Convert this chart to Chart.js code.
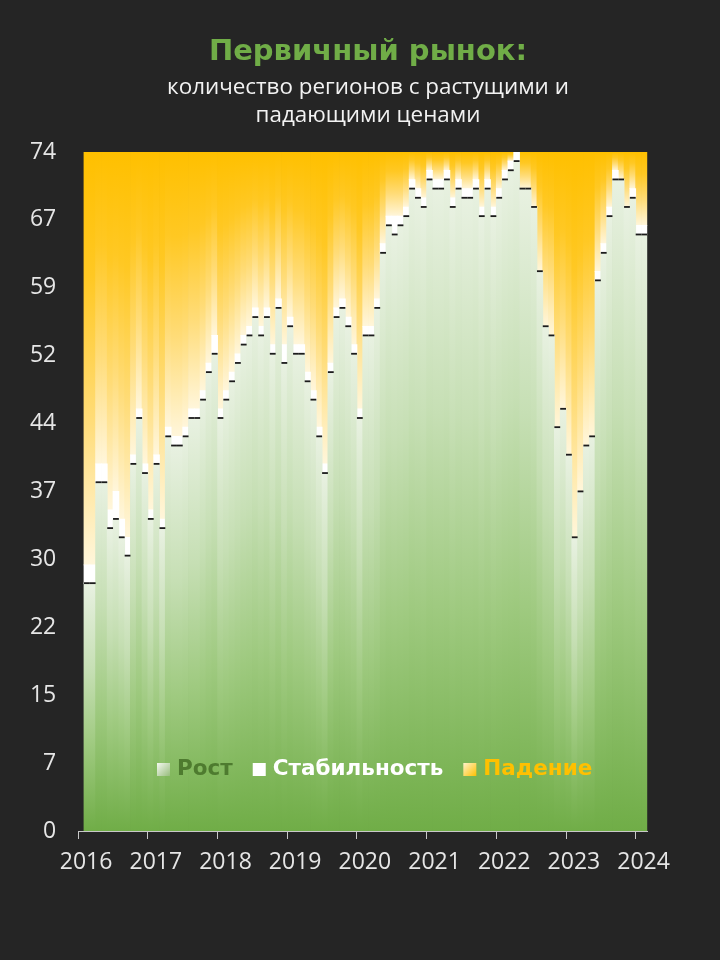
<!DOCTYPE html>
<html>
<head>
<meta charset="utf-8">
<script src="https://cdn.jsdelivr.net/npm/chart.js@4.4.0/dist/chart.umd.min.js"></script>
<style>
  html, body { margin: 0; padding: 0; background: #252525; }
  #wrap { width: 720px; height: 960px; position: relative; }
</style>
</head>
<body>
<div id="wrap"><canvas id="chart"></canvas></div>
<script>
// Years on the x axis (Jan of each year gets a tick)
const years = ['2016', '2017', '2018', '2019', '2020', '2021', '2022', '2023', '2024'];
const monthCodes = ['01', '02', '03', '04', '05', '06', '07', '08', '09', '10', '11', '12'];

// Monthly categories, Jan 2016 .. Feb 2024
const labels = [];
years.forEach(y => {
  monthCodes.forEach(m => {
    if (y === '2024' && m > '02') return;
    labels.push(y + '-' + m);
  });
});

// Number of regions (total 74). Jan 2016 has no data.
const rost = [
  null, 27, 27, 38, 38, 33, 34, 32, 30, 40, 45, 39,   // 2016
  34, 40, 33, 43, 42, 42, 43, 45, 45, 47, 50, 52,     // 2017
  45, 47, 49, 51, 53, 54, 56, 54, 56, 52, 57, 51,     // 2018
  55, 52, 52, 49, 47, 43, 39, 50, 56, 57, 55, 52,     // 2019
  45, 54, 54, 57, 63, 66, 65, 66, 67, 70, 69, 68,     // 2020
  71, 70, 70, 71, 68, 70, 69, 69, 70, 67, 70, 67,     // 2021
  69, 71, 72, 73, 70, 70, 68, 61, 55, 54, 44, 46,     // 2022
  41, 32, 37, 42, 43, 60, 63, 67, 71, 71, 68, 69,     // 2023
  65, 65                                              // 2024
];
const stab = [
  null, 2, 2, 2, 2, 2, 3, 2, 2, 1, 1, 1,
  1, 1, 1, 1, 1, 1, 1, 1, 1, 1, 1, 2,
  1, 1, 1, 1, 1, 1, 1, 1, 1, 1, 1, 2,
  1, 1, 1, 1, 1, 1, 1, 1, 1, 1, 1, 1,
  1, 1, 1, 1, 1, 1, 2, 1, 1, 1, 1, 1,
  1, 1, 1, 1, 1, 1, 1, 1, 1, 1, 1, 1,
  1, 1, 1, 1, 0, 0, 0, 0, 0, 0, 0, 0,
  0, 0, 0, 0, 0, 1, 1, 1, 1, 0, 0, 1,
  1, 1
];
const pad = [
  null, 45, 45, 34, 34, 39, 37, 40, 42, 33, 28, 34,
  39, 33, 40, 30, 31, 31, 30, 28, 28, 26, 23, 20,
  28, 26, 24, 22, 20, 19, 17, 19, 17, 21, 16, 21,
  18, 21, 21, 24, 26, 30, 34, 23, 17, 16, 18, 21,
  28, 19, 19, 16, 10, 7, 7, 7, 6, 3, 4, 5,
  2, 3, 3, 2, 5, 3, 4, 4, 3, 6, 3, 6,
  4, 2, 1, 0, 4, 4, 6, 13, 19, 20, 30, 28,
  33, 42, 37, 32, 31, 13, 10, 6, 2, 3, 6, 4,
  8, 8
];

const yMax = 74;
const yTickLabels = ['0', '7', '15', '22', '30', '37', '44', '52', '59', '67', '74'];

const legendItems = [
  { text: 'Рост', color: '#4e7b2f', box: ['#f4f8f0', '#97bd7c'] },
  { text: 'Стабильность', color: '#ffffff', box: ['#ffffff', '#ffffff'] },
  { text: 'Падение', color: '#ffc000', box: ['#fff3cc', '#ffc000'] }
];

// vertical gradient for one bar segment
function barGradient(chart, topVal, bottomVal, stops) {
  const y = chart.scales.y;
  const top = y.getPixelForValue(topVal);
  const bottom = y.getPixelForValue(bottomVal);
  const g = chart.ctx.createLinearGradient(0, top, 0, bottom);
  stops.forEach(s => g.addColorStop(s[0], s[1]));
  return g;
}

function rostFill(c) {
  const i = c.dataIndex;
  if (!c.chart.chartArea || !c.chart.scales.y || rost[i] == null) return '#a9d08e';
  return barGradient(c.chart, rost[i], 0, [
    [0, '#e8f1e1'], [0.35, '#c6dfb4'], [0.65, '#9fca80'], [1, '#70ad47']
  ]);
}

function padFill(c) {
  const i = c.dataIndex;
  if (!c.chart.chartArea || !c.chart.scales.y || rost[i] == null) return '#ffd24d';
  return barGradient(c.chart, yMax, rost[i] + stab[i], [
    [0, '#ffc000'], [0.3, '#ffc823'], [0.65, '#ffdc78'], [1, '#fff6db']
  ]);
}

const backgroundAndTitle = {
  id: 'backgroundAndTitle',
  beforeDraw(chart) {
    const ctx = chart.ctx;
    ctx.save();
    ctx.fillStyle = '#252525';
    ctx.fillRect(0, 0, chart.width, chart.height);
    ctx.textAlign = 'center';
    ctx.textBaseline = 'middle';
    ctx.fillStyle = '#70ad47';
    ctx.font = 'bold 29px "DejaVu Sans"';
    ctx.fillText('Первичный рынок:', 368, 52);
    ctx.fillStyle = '#f2f2f2';
    ctx.font = '22.4px "Open Sans"';
    ctx.fillText('количество регионов с растущими и', 368, 88);
    ctx.fillText('падающими ценами', 368, 116);
    ctx.restore();
  }
};

// dark line on top of each "Рост" bar, taken from the bar elements
const rostTopLine = {
  id: 'rostTopLine',
  afterDatasetsDraw(chart) {
    const ctx = chart.ctx;
    const meta = chart.getDatasetMeta(0);
    ctx.save();
    ctx.fillStyle = '#1c1c1c';
    meta.data.forEach((bar, i) => {
      if (rost[i] == null) return;
      const p = bar.getProps(['x', 'y', 'width'], true);
      ctx.fillRect(p.x - p.width / 2, p.y - 1, p.width, 1.8);
    });
    ctx.restore();
  }
};

const insideLegend = {
  id: 'insideLegend',
  afterDatasetsDraw(chart) {
    const ctx = chart.ctx;
    ctx.save();
    ctx.font = 'bold 21.5px "DejaVu Sans"';
    ctx.textBaseline = 'middle';
    ctx.textAlign = 'left';
    const cy = 769;
    let x = 157;
    legendItems.forEach(item => {
      const g = ctx.createLinearGradient(x, cy - 6, x + 13, cy + 7);
      g.addColorStop(0, item.box[0]);
      g.addColorStop(1, item.box[1]);
      ctx.fillStyle = g;
      ctx.fillRect(x, cy - 6, 13, 13);
      x += 20;
      ctx.fillStyle = item.color;
      ctx.fillText(item.text, x, cy);
      x += ctx.measureText(item.text).width + 20;
    });
    ctx.restore();
  }
};

new Chart(document.getElementById('chart'), {
  type: 'bar',
  data: {
    labels: labels,
    datasets: [
      {
        label: 'Рост',
        data: rost,
        backgroundColor: rostFill,
        borderWidth: 0
      },
      {
        label: 'Стабильность',
        data: stab,
        backgroundColor: '#ffffff',
        borderWidth: 0
      },
      {
        label: 'Падение',
        data: pad,
        backgroundColor: padFill,
        borderWidth: 0
      }
    ]
  },
  options: {
    responsive: true,
    maintainAspectRatio: false,
    animation: false,
    layout: { padding: { top: 152, right: 72.7, bottom: 69, left: 0 } },
    datasets: {
      bar: { categoryPercentage: 1, barPercentage: 1, inflateAmount: 0.4 }
    },
    plugins: {
      legend: { display: false },
      title: { display: false },
      tooltip: { enabled: false }
    },
    scales: {
      x: {
        stacked: true,
        offset: true,
        afterFit(scale) { scale.height = 60; },
        grid: {
          offset: true,
          drawOnChartArea: false,
          drawTicks: true,
          tickLength: 8,
          lineWidth: 1,
          color: (c) => (labels[c.index] && labels[c.index].endsWith('-01')) ? '#c8c8c8' : 'rgba(0,0,0,0)'
        },
        border: { display: true, color: '#c8c8c8', width: 1 },
        ticks: {
          autoSkip: false,
          maxRotation: 0,
          minRotation: 0,
          padding: 10,
          labelOffset: 5,
          color: '#e6e6e6',
          font: { family: '"Open Sans"', size: 23 },
          callback: (v, i) => labels[i].endsWith('-01') ? labels[i].slice(0, 4) : ''
        }
      },
      y: {
        stacked: true,
        min: 0,
        max: yMax,
        afterFit(scale) { scale.width = 78.2; },
        afterBuildTicks(scale) {
          scale.ticks = yTickLabels.map((t, i) => ({ value: i * yMax / 10 }));
        },
        grid: { display: false },
        border: { display: false },
        ticks: {
          padding: 14,
          color: '#e6e6e6',
          font: { family: '"Open Sans"', size: 23 },
          callback: (v, i) => yTickLabels[i]
        }
      }
    }
  },
  plugins: [backgroundAndTitle, rostTopLine, insideLegend]
});
</script>
</body>
</html>
